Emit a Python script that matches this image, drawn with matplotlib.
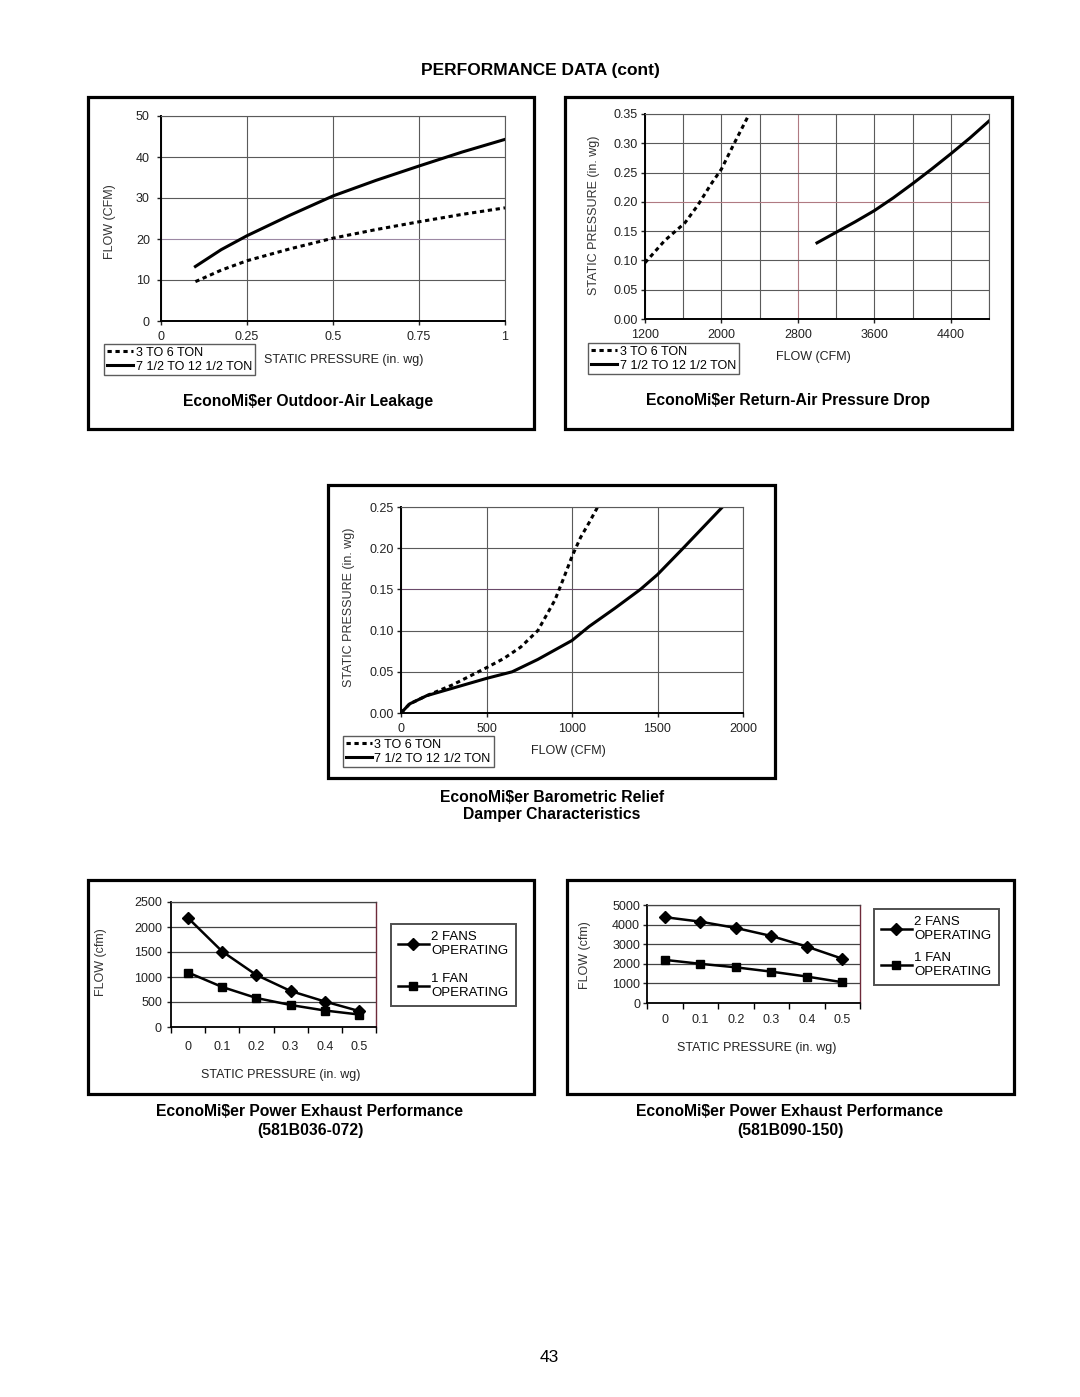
import numpy as np
import matplotlib
matplotlib.use("Agg")
from matplotlib import pyplot as plt
from matplotlib.patches import Rectangle

plt.rcParams['font.family'] = ['Liberation Sans', 'DejaVu Sans']

# --- data ---
# outdoor-air leakage
leak_sp = [0.1, 0.175, 0.25, 0.375, 0.5, 0.625, 0.75, 0.875, 1.0]
leak_small = [9.6, 12.4, 14.7, 17.6, 20.2, 22.3, 24.2, 26.0, 27.6]
leak_large = [13.3, 17.4, 20.8, 25.8, 30.5, 34.3, 37.8, 41.2, 44.3]

# return-air pressure drop
ra_cfm_small = [1200, 1407, 1617, 1752, 1890, 2000, 2131, 2269, 2290]
ra_sp_small = [0.096, 0.134, 0.164, 0.194, 0.230, 0.256, 0.299, 0.343, 0.35]
ra_cfm_large = [3000, 3200, 3400, 3600, 3800, 4000, 4200, 4400, 4600, 4800]
ra_sp_large = [0.13, 0.148, 0.166, 0.185, 0.207, 0.231, 0.256, 0.282, 0.309, 0.338]

# barometric relief
br_cfm_small = [0, 50, 150, 300, 500, 600, 700, 800, 900, 950, 1000, 1050, 1100, 1150]
br_sp_small = [0, 0.011, 0.021, 0.034, 0.055, 0.066, 0.08, 0.1, 0.137, 0.163, 0.19, 0.213, 0.231, 0.25]
br_cfm_large = [0, 50, 150, 300, 500, 650, 800, 1000, 1100, 1250, 1400, 1500, 1650, 1880]
br_sp_large = [0, 0.011, 0.021, 0.03, 0.042, 0.05, 0.065, 0.088, 0.105, 0.127, 0.15, 0.168, 0.2, 0.25]

# power exhaust
pe_sp = ['0', '0.1', '0.2', '0.3', '0.4', '0.5']
pe1_two = [2180, 1510, 1040, 720, 510, 320]
pe1_one = [1090, 800, 580, 440, 330, 250]
pe2_two = [4380, 4150, 3830, 3420, 2880, 2260]
pe2_one = [2200, 2000, 1820, 1600, 1350, 1060]

lbl_small = '3 TO 6 TON'
lbl_large = '7 1/2 TO 12 1/2 TON'

W, H = 1080, 1397
fig = plt.figure(figsize=(W / 100, H / 100), dpi=100)
fig.patch.set_facecolor('white')

GRID = '#5a5a5a'
DOTS = (0, (1.4, 1.2))
FS = 9        # tick / axis text
TFS = 11.3    # chart titles


def px_axes(l, t, r, b):
    return fig.add_axes([l / W, 1 - b / H, (r - l) / W, (b - t) / H])


def ftext(x, y, s, **kw):
    kw.setdefault('ha', 'center')
    kw.setdefault('va', 'center')
    fig.text(x / W, 1 - y / H, s, **kw)


def frame(l, t, r, b):
    fig.add_artist(Rectangle((l / W, 1 - b / H), (r - l) / W, (b - t) / H,
                             transform=fig.transFigure, fill=False,
                             edgecolor='black', lw=2.3))


def style_xy(ax, xpad, ypad):
    ax.grid(True, color=GRID, lw=0.8)
    ax.set_axisbelow(True)
    for s in ['top', 'right']:
        ax.spines[s].set_color(GRID)
        ax.spines[s].set_linewidth(0.8)
    for s in ['left', 'bottom']:
        ax.spines[s].set_color('black')
        ax.spines[s].set_linewidth(1.4)
    ax.tick_params(axis='x', length=3, width=1, pad=xpad, labelsize=FS, colors='#222')
    ax.tick_params(axis='y', length=3, width=1, pad=ypad, labelsize=FS, colors='#222')


def add_legend(ax, l, t):
    h, lab = ax.get_legend_handles_labels()
    leg = fig.legend(h, lab, loc='upper left', bbox_to_anchor=(l / W, 1 - t / H),
                     borderaxespad=0, fontsize=FS, frameon=True, fancybox=False,
                     edgecolor='#333', handlelength=2.1, handletextpad=0.2,
                     labelspacing=0.15, borderpad=0.22)
    leg.get_frame().set_linewidth(1.0)


ftext(540, 70, 'PERFORMANCE DATA (cont)', fontsize=12.5, fontweight='bold')

# ---------- chart 1: outdoor-air leakage ----------
frame(88, 97, 534, 429)
ax1 = px_axes(161, 116, 505, 321)
ax1.plot(leak_sp, leak_small, color='black', lw=2.2, ls=DOTS, label=lbl_small)
ax1.plot(leak_sp, leak_large, color='black', lw=2.2, label=lbl_large)
ax1.set_xlim(0, 1)
ax1.set_ylim(0, 50)
ax1.set_xticks([0, 0.25, 0.5, 0.75, 1])
ax1.set_xticklabels(['0', '0.25', '0.5', '0.75', '1'])
ax1.set_yticks(range(0, 51, 10))
style_xy(ax1, 4.5, 5)
ax1.get_ygridlines()[2].set_color('#9c88a4')
add_legend(ax1, 104, 344)
ftext(110, 222, 'FLOW (CFM)', rotation=90, fontsize=FS, color='#333')
ftext(344, 360, 'STATIC PRESSURE (in. wg)', fontsize=FS, color='#222')
ftext(308, 401, r'EconoMi\$er Outdoor-Air Leakage', fontsize=TFS, fontweight='bold')

# ---------- chart 2: return-air pressure drop ----------
frame(565, 97, 1012, 429)
ax2 = px_axes(645, 114, 989, 319)
ax2.plot(ra_cfm_small, ra_sp_small, color='black', lw=2.2, ls=DOTS, label=lbl_small)
ax2.plot(ra_cfm_large, ra_sp_large, color='black', lw=2.2, label=lbl_large)
ax2.set_xlim(1200, 4800)
ax2.set_ylim(0, 0.35)
ax2.set_xticks([1200, 2000, 2800, 3600, 4400])
ax2.set_xticks(np.arange(1600, 4801, 800), minor=True)
ax2.set_yticks(np.arange(0, 0.351, 0.05))
ax2.set_yticklabels(['%.2f' % v for v in np.arange(0, 0.351, 0.05)])
style_xy(ax2, 4.5, 2)
ax2.grid(True, which='minor', axis='x', color=GRID, lw=0.8)
ax2.tick_params(which='minor', length=0)
ax2.get_xgridlines()[2].set_color('#b07a82')
ax2.get_ygridlines()[4].set_color('#b07a82')
add_legend(ax2, 588, 343)
ftext(594, 215, 'STATIC PRESSURE (in. wg)', rotation=90, fontsize=FS, color='#333')
ftext(813, 357, 'FLOW (CFM)', fontsize=FS, color='#222')
ftext(788, 400, r'EconoMi\$er Return-Air Pressure Drop', fontsize=TFS, fontweight='bold')

# ---------- chart 3: barometric relief ----------
frame(328, 485, 775, 778)
ax3 = px_axes(401, 507, 743, 713)
ax3.plot(br_cfm_small, br_sp_small, color='black', lw=2.2, ls=DOTS, label=lbl_small)
ax3.plot(br_cfm_large, br_sp_large, color='black', lw=2.2, label=lbl_large)
ax3.set_xlim(0, 2000)
ax3.set_ylim(0, 0.25)
ax3.set_xticks(range(0, 2001, 500))
ax3.set_yticks(np.arange(0, 0.251, 0.05))
ax3.set_yticklabels(['%.2f' % v for v in np.arange(0, 0.251, 0.05)])
style_xy(ax3, 4, 2)
ax3.get_ygridlines()[3].set_color('#6a4a6a')
add_legend(ax3, 343, 736)
ftext(349, 607, 'STATIC PRESSURE (in. wg)', rotation=90, fontsize=FS, color='#333')
ftext(568, 751, 'FLOW (CFM)', fontsize=FS, color='#222')
ftext(552, 797, r'EconoMi\$er Barometric Relief', fontsize=TFS, fontweight='bold')
ftext(552, 814, 'Damper Characteristics', fontsize=TFS, fontweight='bold')


# ---------- charts 4 and 5: power exhaust ----------
def exhaust(ax, two, one, ymax, step, xpad, ypad, leg_l, leg_t, spacing):
    ax.plot(pe_sp, two, color='black', lw=1.8, marker='D', ms=6, label='2 FANS\nOPERATING')
    ax.plot(pe_sp, one, color='black', lw=1.8, marker='s', ms=5.5, label='1 FAN\nOPERATING')
    ax.set_xlim(-0.5, 5.5)
    ax.set_ylim(0, ymax)
    ax.set_yticks(range(0, ymax + 1, step))
    ax.set_xticks(np.arange(-0.5, 5.6, 1), minor=True)
    ax.grid(True, axis='y', color='#444', lw=0.9)
    ax.set_axisbelow(True)
    ax.spines['top'].set_color('#444')
    ax.spines['top'].set_linewidth(0.9)
    ax.spines['right'].set_color('#6e2a3a')
    ax.spines['right'].set_linewidth(1.0)
    for s in ['left', 'bottom']:
        ax.spines[s].set_linewidth(1.3)
    ax.tick_params(axis='x', which='major', length=0, pad=xpad, labelsize=FS, colors='#222')
    ax.tick_params(axis='x', which='minor', length=4, width=1)
    ax.tick_params(axis='y', length=3, width=1, pad=ypad, labelsize=FS, colors='#222')
    h, lab = ax.get_legend_handles_labels()
    leg = fig.legend(h, lab, loc='upper left', bbox_to_anchor=(leg_l / W, 1 - leg_t / H),
                     borderaxespad=0, fontsize=9.5, frameon=True, fancybox=False,
                     edgecolor='#222', handlelength=2.3, handletextpad=0.2,
                     labelspacing=spacing, borderpad=0.55, numpoints=1)
    leg.get_frame().set_linewidth(1.4)


frame(88, 880, 534, 1094)
ax4 = px_axes(171, 902, 376, 1027)
exhaust(ax4, pe1_two, pe1_one, 2500, 500, 10, 3.5, 391, 924, 1.2)
ftext(101, 962, 'FLOW (cfm)', rotation=90, fontsize=FS, color='#333')
ftext(281, 1075, 'STATIC PRESSURE (in. wg)', fontsize=FS, color='#222')
ftext(310, 1112, r'EconoMi\$er Power Exhaust Performance', fontsize=TFS, fontweight='bold')
ftext(310, 1130, '(581B036-072)', fontsize=TFS, fontweight='bold')

frame(567, 880, 1014, 1094)
ax5 = px_axes(647, 905, 860, 1003)
exhaust(ax5, pe2_two, pe2_one, 5000, 1000, 8, 2, 874, 909, 0.75)
ftext(585, 955, 'FLOW (cfm)', rotation=90, fontsize=FS, color='#333')
ftext(757, 1048, 'STATIC PRESSURE (in. wg)', fontsize=FS, color='#222')
ftext(790, 1112, r'EconoMi\$er Power Exhaust Performance', fontsize=TFS, fontweight='bold')
ftext(790, 1130, '(581B090-150)', fontsize=TFS, fontweight='bold')

ftext(549, 1357, '43', fontsize=12.5)

fig.savefig('out.png', dpi=100)
